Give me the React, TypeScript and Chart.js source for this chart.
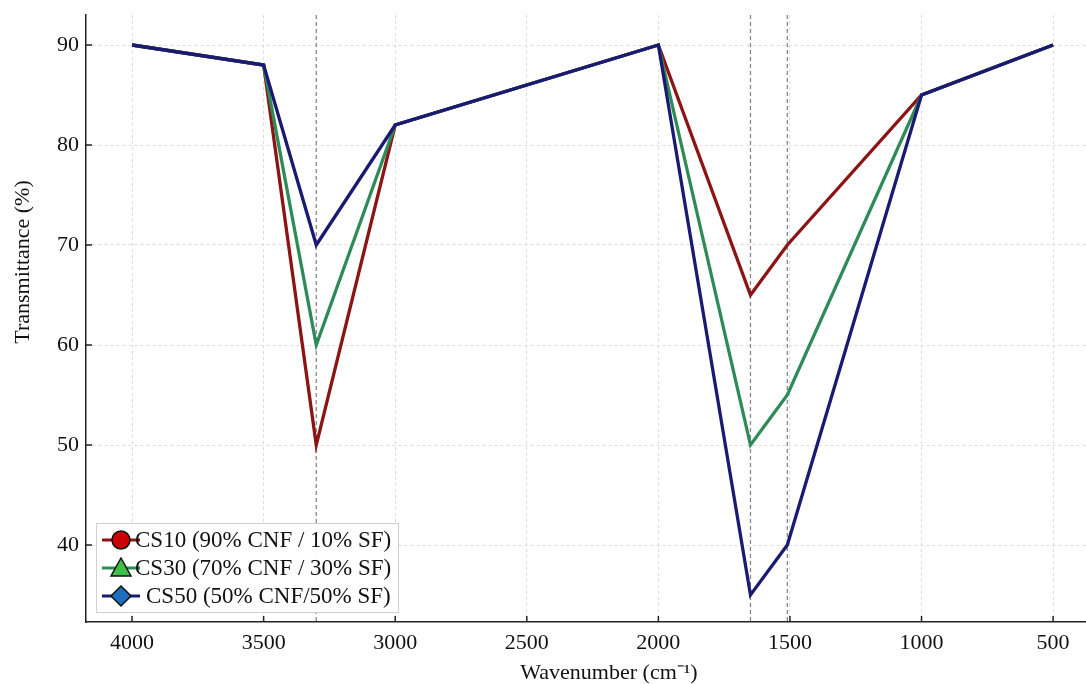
import React, { useEffect, useRef } from "react";
import { Chart, registerables } from "chart.js";

Chart.register(...registerables);

const wavenumbers = [4000, 3500, 3300, 3000, 2000, 1650, 1510, 1000, 500];
const cs10 = [90, 88, 50, 82, 90, 65, 70, 85, 90];
const cs30 = [90, 88, 60, 82, 90, 50, 55, 85, 90];
const cs50 = [90, 88, 70, 82, 90, 35, 40, 85, 90];
const seriesLabels = ["CS10 (90% CNF / 10% SF)", "CS30 (70% CNF / 30% SF)", "CS50 (50% CNF/50% SF)"];
const xTicks = [4000, 3500, 3000, 2500, 2000, 1500, 1000, 500];
const yTicks = [40, 50, 60, 70, 80, 90];
const peakLines = [3300, 1650, 1510];
const xTitle = "Wavenumber (cm⁻¹)";
const yTitle = "Transmittance (%)";

const lineColors = ["#8B1414", "#2E8B57", "#1A1A72"];
const markerColors = ["#CC0000", "#3CC04A", "#1E6FC0"];
const markerShapes = ["circle", "triangle", "diamond"];
const FONT = "'Liberation Serif', 'Times New Roman', serif";

export default function App() {
  const ref = useRef<HTMLCanvasElement | null>(null);
  useEffect(() => {
    document.body.style.margin = "0";
    const canvas = ref.current!;
    const mk = (vals: number[]) => wavenumbers.map((x, i) => ({ x, y: vals[i] }));
    const all = [cs10, cs30, cs50];

    const extras = {
      id: "extras",
      beforeDatasetsDraw(chart: any) {
        const { ctx, chartArea, scales } = chart;
        ctx.save();
        ctx.strokeStyle = "#888";
        ctx.lineWidth = 1.3;
        ctx.setLineDash([4, 3]);
        for (const v of peakLines) {
          const x = scales.x.getPixelForValue(v);
          ctx.beginPath();
          ctx.moveTo(x, chartArea.top);
          ctx.lineTo(x, chartArea.bottom);
          ctx.stroke();
        }
        ctx.restore();
      },
      afterDraw(chart: any) {
        const { ctx, chartArea, scales } = chart;
        ctx.save();
        // inward ticks
        ctx.strokeStyle = "#222";
        ctx.lineWidth = 1.5;
        for (const v of xTicks) {
          const x = scales.x.getPixelForValue(v);
          ctx.beginPath();
          ctx.moveTo(x, chartArea.bottom);
          ctx.lineTo(x, chartArea.bottom - 6);
          ctx.stroke();
        }
        for (const v of yTicks) {
          const y = scales.y.getPixelForValue(v);
          ctx.beginPath();
          ctx.moveTo(chartArea.left, y);
          ctx.lineTo(chartArea.left + 6, y);
          ctx.stroke();
        }
        // axis titles
        ctx.fillStyle = "#111";
        ctx.font = `22px ${FONT}`;
        ctx.textAlign = "center";
        ctx.textBaseline = "middle";
        ctx.fillText(xTitle, 609, 673);
        ctx.save();
        ctx.translate(23, 262);
        ctx.rotate(-Math.PI / 2);
        ctx.fillText(yTitle, 0, 0);
        ctx.restore();
        // legend
        const bx = 96, by = 523, bw = 302, bh = 89;
        ctx.fillStyle = "rgba(255,255,255,0.95)";
        ctx.fillRect(bx, by, bw, bh);
        ctx.strokeStyle = "#d0d0d0";
        ctx.lineWidth = 1;
        ctx.strokeRect(bx + 0.5, by + 0.5, bw, bh);
        ctx.font = `23px ${FONT}`;
        ctx.textBaseline = "middle";
        seriesLabels.forEach((lab, i) => {
          const y = by + 17 + i * 28;
          ctx.strokeStyle = lineColors[i];
          ctx.lineWidth = 3;
          ctx.beginPath();
          ctx.moveTo(102, y);
          ctx.lineTo(140, y);
          ctx.stroke();
          const cx = 121;
          ctx.fillStyle = markerColors[i];
          ctx.strokeStyle = "#111";
          ctx.lineWidth = 1.5;
          ctx.beginPath();
          if (markerShapes[i] === "circle") {
            ctx.arc(cx, y, 9, 0, Math.PI * 2);
          } else if (markerShapes[i] === "triangle") {
            ctx.moveTo(cx, y - 10);
            ctx.lineTo(cx + 10, y + 8);
            ctx.lineTo(cx - 10, y + 8);
            ctx.closePath();
          } else {
            ctx.moveTo(cx, y - 10);
            ctx.lineTo(cx + 10, y);
            ctx.lineTo(cx, y + 10);
            ctx.lineTo(cx - 10, y);
            ctx.closePath();
          }
          ctx.fill();
          ctx.stroke();
          ctx.fillStyle = "#111";
          ctx.textAlign = "left";
          ctx.fillText(lab, i === 2 ? 146 : 135, y + 1);
        });
        ctx.restore();
      },
    };

    const chart = new Chart(canvas, {
      type: "line",
      data: {
        datasets: all.map((vals, i) => ({
          label: seriesLabels[i],
          data: mk(vals),
          borderColor: lineColors[i],
          backgroundColor: lineColors[i],
          borderWidth: 3.3,
          pointRadius: 0,
          tension: 0,
          order: 3 - i,
        })),
      },
      options: {
        animation: false,
        responsive: false,
        maintainAspectRatio: false,
        layout: { padding: { top: 15, right: 0, left: 0, bottom: 0 } },
        plugins: { legend: { display: false }, tooltip: { enabled: false } },
        scales: {
          x: {
            type: "linear",
            reverse: true,
            min: 375,
            max: 4175,
            afterBuildTicks: (s: any) => {
              s.ticks = xTicks.map((v) => ({ value: v }));
            },
            afterFit: (s: any) => {
              s.height = 62;
              s.paddingLeft = 0;
              s.paddingRight = 0;
            },
            ticks: {
              color: "#111",
              font: { family: FONT, size: 22 },
              padding: 8,
              maxRotation: 0,
              callback: (v: any) => String(v),
            },
            grid: {
              color: "#dcdcdc",
              lineWidth: 1,
              drawTicks: false,
            },
            border: { display: true, color: "#222", width: 1.5, dash: [3, 3] },
          },
          y: {
            type: "linear",
            min: 32.3,
            max: 93,
            afterBuildTicks: (s: any) => {
              s.ticks = yTicks.map((v) => ({ value: v }));
            },
            afterFit: (s: any) => {
              s.width = 86;
              s.paddingTop = 0;
              s.paddingBottom = 0;
            },
            ticks: {
              color: "#111",
              font: { family: FONT, size: 22 },
              padding: 7,
              callback: (v: any) => String(v),
            },
            grid: {
              color: "#dcdcdc",
              lineWidth: 1,
              drawTicks: false,
            },
            border: { display: true, color: "#222", width: 1.5, dash: [3, 3] },
          },
        },
      },
      plugins: [extras],
    } as any);
    return () => chart.destroy();
  }, []);
  return <canvas ref={ref} width={1086} height={684} style={{ display: "block" }} />;
}
